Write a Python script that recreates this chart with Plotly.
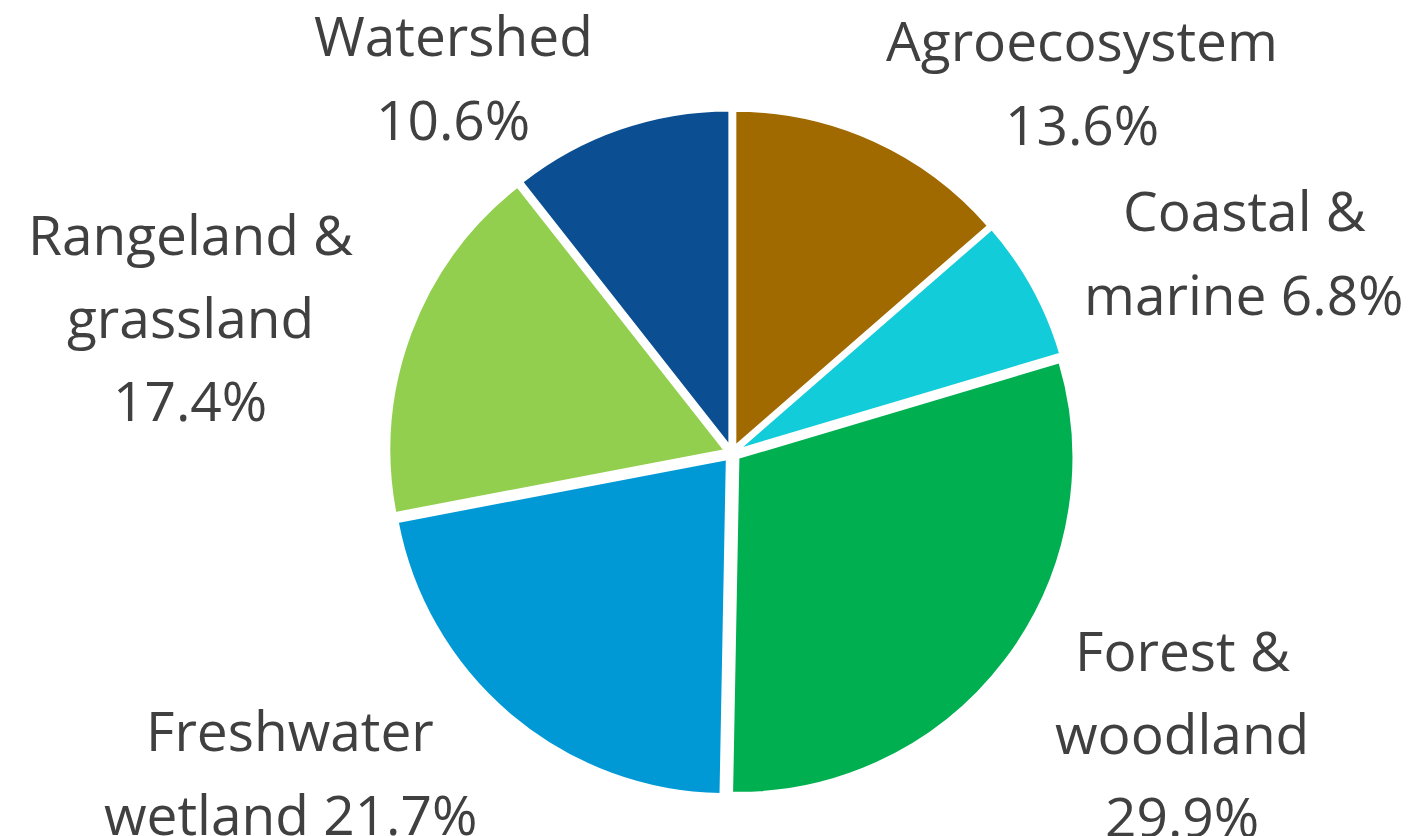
import plotly.graph_objects as go

categories = ["Agroecosystem", "Coastal & marine", "Forest & woodland",
              "Freshwater wetland", "Rangeland & grassland", "Watershed"]
values = [13.6, 6.8, 29.9, 21.7, 17.4, 10.6]
colors = ["#A06A00", "#12CCD9", "#00AF50", "#0099D6", "#92CF4E", "#0B4F92"]

# label text lines (built from categories & values)
label_lines = [
    ["Agroecosystem", f"{values[0]}%"],
    ["Coastal &", f"marine {values[1]}%"],
    ["Forest &", "woodland", f"{values[2]}%"],
    ["Freshwater", f"wetland {values[3]}%"],
    ["Rangeland &", "grassland", f"{values[4]}%"],
    ["Watershed", f"{values[5]}%"],
]
# layout positions (pixel centre x, baseline y of first line, line spacing)
label_pos = [
    (1074, 58, 84),
    (1236, 228, 84),
    (1174, 668, 83),
    (282, 748, 84),
    (182, 252, 83),
    (445, 53, 84),
]

W, H = 1411, 836
cx, cy, r, pull = 724, 445, 335, 0.024

fig = go.Figure(go.Pie(
    labels=categories, values=values, sort=False, direction="clockwise",
    rotation=0, pull=[pull] * len(values),
    marker=dict(colors=colors, line=dict(color="white", width=2)),
    textinfo="none", hoverinfo="label+percent", showlegend=False,
    domain=dict(x=[(cx - 400) / W, (cx + 400) / W],
                y=[1 - (cy + r * (1 + pull)) / H, 1 - (cy - r * (1 + pull)) / H]),
))

FS = 55
for lines, (px, by, sp) in zip(label_lines, label_pos):
    for i, t in enumerate(lines):
        b = by + i * sp
        fig.add_annotation(
            x=px / W, y=1 - (b - 0.36 * FS - 7) / H, xref="paper", yref="paper",
            text=t, showarrow=False, xanchor="center", yanchor="middle",
            font=dict(family="Open Sans", size=FS, color="#404040"),
        )

fig.update_layout(width=W, height=H, margin=dict(l=0, r=0, t=0, b=0),
                  paper_bgcolor="white", plot_bgcolor="white")
fig.write_html("out.html")
